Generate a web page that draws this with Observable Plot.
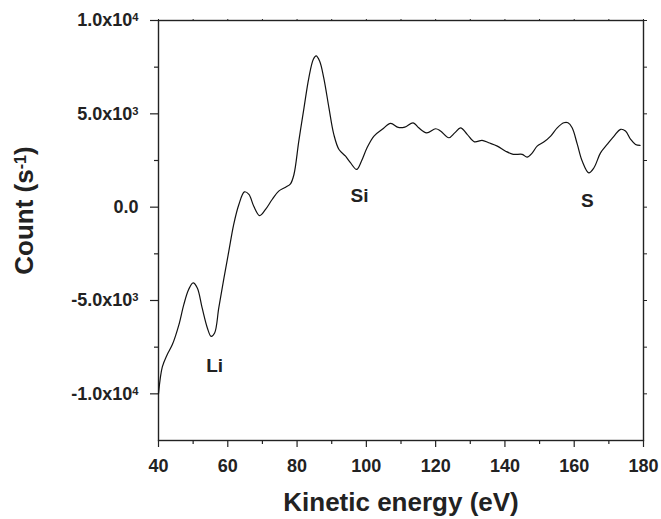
<!DOCTYPE html>
<html>
<head>
<meta charset="utf-8">
<script src="https://cdn.jsdelivr.net/npm/d3@7"></script>
<script src="https://cdn.jsdelivr.net/npm/@observablehq/plot@0.6"></script>
<style>
  html, body { margin: 0; padding: 0; background: #fff; }
  #chart svg { display: block; }
</style>
</head>
<body>
<div id="chart"></div>
<script>
// Kinetic energy (eV) and count (s^-1)
const energy = [40, 41.1, 42.5, 44, 45.9, 47.3, 48.7, 50, 51.2, 52.6, 54.1, 55.2, 56.2, 57.4, 58.9, 60.3, 61.7, 63.2, 64.8, 66.1, 67.5, 69.2, 70.9, 72.8, 74.7, 76.7, 78.1, 79.1, 80.5, 82, 83.4, 84.7, 85.5, 86.5, 87.7, 89.2, 90.6, 92.1, 94, 95.4, 97.2, 98.6, 100.2, 102.2, 104.6, 107, 109.2, 111.1, 113.5, 115.1, 117.4, 120, 121.4, 123.8, 125.5, 127.2, 129.1, 131.2, 133.4, 135.3, 137.8, 140.2, 142.4, 145, 146.4, 147.9, 149.3, 151.2, 153.2, 155.1, 157, 158.2, 159.4, 160.9, 162.3, 164.2, 165.7, 167.6, 169.5, 171.5, 173.4, 174.8, 176.3, 177.7, 179];
const count = [-10000, -8560, -7900, -7360, -6290, -5220, -4410, -4060, -4330, -5400, -6470, -6920, -6740, -5400, -3790, -2360, -930, 145, 820, 680, 50, -450, -120, 410, 860, 1070, 1250, 1750, 3540, 5320, 6930, 7920, 8100, 7830, 6930, 5320, 3900, 3090, 2730, 2380, 2020, 2470, 3180, 3810, 4170, 4490, 4270, 4290, 4520, 4250, 3980, 4200, 4080, 3720, 3980, 4250, 3900, 3500, 3580, 3450, 3270, 3000, 2830, 2830, 2680, 2910, 3270, 3490, 3810, 4250, 4520, 4520, 4250, 3360, 2470, 1840, 2110, 2910, 3360, 3810, 4170, 4080, 3630, 3360, 3310];

// Peak annotations
const peakLabels = ["Li", "Si", "S"];
const peakX = [56.2, 98, 163.8];
const peakY = [-8530, 590, 320];

// Axis ticks
const xMajor = [40, 60, 80, 100, 120, 140, 160, 180];
const xMinor = [50, 70, 90, 110, 130, 150, 170];
const yMajor = [-10000, -5000, 0, 5000, 10000];
const yMinor = [-7500, -2500, 2500, 7500];

const xTitle = "Kinetic energy (eV)";
const yTitle = "Count (s^-1)";

const data = energy.map((e, i) => ({e, c: count[i]}));
const annots = peakLabels.map((t, i) => ({t, x: peakX[i], y: peakY[i]}));

function sci(d) {
  if (d === 0) return "0.0";
  const sign = d < 0 ? "-" : "";
  const a = Math.abs(d);
  const exp = Math.floor(Math.log10(a));
  const m = a / Math.pow(10, exp);
  return sign + m.toFixed(1) + "x10^" + exp;
}

const ink = "#222";
const blank = () => "";

const chart = Plot.plot({
  width: 661,
  height: 519,
  marginLeft: 158,
  marginRight: 18,
  marginTop: 20,
  marginBottom: 79,
  style: {fontFamily: "'Liberation Sans', Arial, sans-serif", fontSize: "18px", fontWeight: "bold", color: ink},
  x: {domain: [40, 180]},
  y: {domain: [-12500, 10000]},
  marks: [
    Plot.axisX({ticks: xMajor, tickSize: 7, tickPadding: 12, tickFormat: d => String(d), label: null, stroke: ink, strokeWidth: 1.2}),
    Plot.axisX({ticks: xMinor, tickSize: 4, tickFormat: blank, label: null, stroke: ink, strokeWidth: 1.2}),
    Plot.axisX({anchor: "top", ticks: xMajor.concat(xMinor), tickSize: 2, tickFormat: blank, label: null, stroke: ink}),
    Plot.axisY({ticks: yMajor, tickSize: 8, tickPadding: 12, tickFormat: sci, label: null, stroke: ink, strokeWidth: 1.2}),
    Plot.axisY({ticks: yMinor, tickSize: 4, tickFormat: blank, label: null, stroke: ink, strokeWidth: 1.2}),
    Plot.axisY({anchor: "right", ticks: yMajor.concat(yMinor), tickSize: 3, tickFormat: blank, label: null, stroke: ink}),
    Plot.frame({stroke: ink, strokeWidth: 1.4}),
    Plot.line(data, {x: "e", y: "c", curve: "catmull-rom", stroke: "#111", strokeWidth: 1.2}),
    Plot.text(annots, {x: "x", y: "y", text: "t", fontSize: 19, fontWeight: "bold", fill: ink}),
    Plot.text([xTitle], {frameAnchor: "bottom", textAnchor: "middle", lineAnchor: "middle", dy: 62, fontSize: 26, fontWeight: "bold", fill: ink}),
    Plot.text([yTitle], {frameAnchor: "left", textAnchor: "middle", lineAnchor: "middle", dx: -134, dy: -20, rotate: -90, fontSize: 26, fontWeight: "bold", fill: ink})
  ]
});

// Render "^" parts as raised superscripts
d3.select(chart).selectAll("text").each(function() {
  const el = this;
  if (el.querySelector("tspan")) return;
  const s = el.textContent;
  if (!s.includes("^")) return;
  const m = s.match(/^(.*)\^([-0-9]+)(.*)$/);
  if (!m) return;
  el.textContent = "";
  const ns = "http://www.w3.org/2000/svg";
  const t1 = document.createElementNS(ns, "tspan");
  t1.textContent = m[1];
  el.appendChild(t1);
  const t2 = document.createElementNS(ns, "tspan");
  t2.textContent = m[2];
  t2.setAttribute("dy", "-0.45em");
  t2.setAttribute("font-size", "0.62em");
  el.appendChild(t2);
  if (m[3]) {
    const t3 = document.createElementNS(ns, "tspan");
    t3.textContent = m[3];
    t3.setAttribute("dy", "0.28em");
    el.appendChild(t3);
  }
});

document.getElementById("chart").appendChild(chart);
</script>
</body>
</html>
